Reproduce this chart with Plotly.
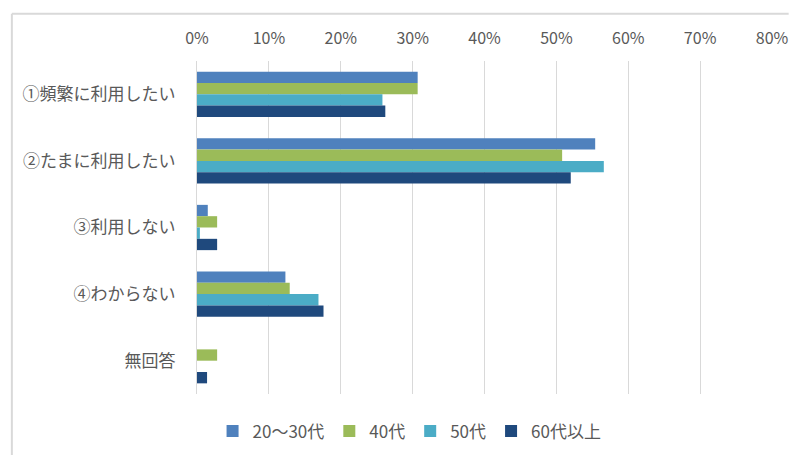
import plotly.graph_objects as go

categories = ["①頻繁に利用したい", "②たまに利用したい", "③利用しない", "④わからない", "無回答"]
series_names = ["20～30代", "40代", "50代", "60代以上"]
v_20_30 = [0.307, 0.554, 0.015, 0.123, 0.0]
v_40 = [0.307, 0.508, 0.028, 0.129, 0.028]
v_50 = [0.258, 0.566, 0.004, 0.169, 0.0]
v_60 = [0.262, 0.520, 0.028, 0.176, 0.014]
series_values = [v_20_30, v_40, v_50, v_60]
colors = ["#4F81BD", "#9BBB59", "#4BACC6", "#1F497D"]
tick_vals = [0, 0.1, 0.2, 0.3, 0.4, 0.5, 0.6, 0.7, 0.8]
tick_text = ["0%", "10%", "20%", "30%", "40%", "50%", "60%", "70%", "80%"]

FONT = "Noto Sans CJK JP"
OFF = 8  # browser body margin
W, H = 801 - OFF, 461 - OFF
L, R, T, B = 197 - OFF, 25 - OFF, 61 - OFF, 62
pw = W - L - R
ph = H - T - B

fig = go.Figure()
for name, vals, col in zip(series_names, series_values, colors):
    fig.add_trace(go.Bar(
        x=vals, y=categories, name=name, orientation="h",
        marker=dict(color=col, line=dict(width=0)),
    ))

legend_cx = 414 - OFF
legend_cy = 437 - OFF
border_x = 8 - OFF
border_y = 13 - OFF

fig.update_layout(
    width=W, height=H,
    margin=dict(l=L, r=R, t=T, b=B),
    paper_bgcolor="white", plot_bgcolor="white",
    barmode="group", bargap=0.32, bargroupgap=0,
    font=dict(family=FONT, size=16, color="#595959"),
    xaxis=dict(
        side="top", range=[0, 0.8], tickvals=tick_vals, ticktext=tick_text,
        showgrid=True, gridcolor="#D9D9D9", gridwidth=1,
        zeroline=False, showline=False, ticks="", ticklen=0,
        ticklabelstandoff=13,
        tickfont=dict(family=FONT, size=16, color="#595959"),
    ),
    yaxis=dict(
        autorange="reversed", showgrid=False, zeroline=False,
        showline=True, linecolor="#D9D9D9", linewidth=1,
        ticks="", ticklabelstandoff=17,
        tickfont=dict(family=FONT, size=17, color="#595959"),
    ),
    legend=dict(
        orientation="h", x=(legend_cx - L) / pw, xanchor="center",
        y=-(legend_cy - (T + ph)) / ph, yanchor="middle",
        font=dict(family=FONT, size=17, color="#595959"),
        traceorder="normal", itemwidth=30,
    ),
    showlegend=True,
    shapes=[
        dict(type="line", xref="paper", yref="paper",
             x0=(border_x - L) / pw, x1=(border_x - L) / pw,
             y0=(H - border_y - B) / ph, y1=-B / ph,
             line=dict(color="#D9D9D9", width=2)),
        dict(type="line", xref="paper", yref="paper",
             x0=(border_x - L) / pw, x1=(W - L) / pw,
             y0=(H - border_y - B) / ph, y1=(H - border_y - B) / ph,
             line=dict(color="#D9D9D9", width=2)),
    ],
)

fig.write_html("out.html")
